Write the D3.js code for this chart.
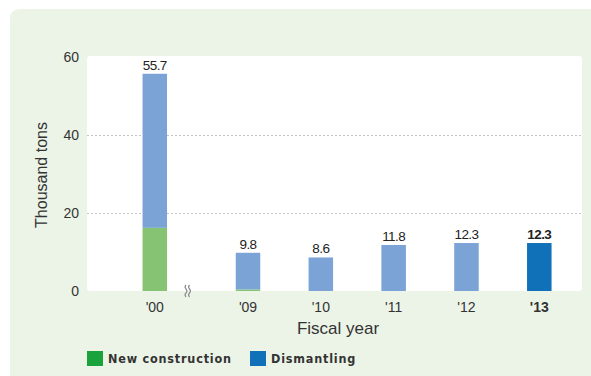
<!DOCTYPE html>
<html>
<head>
<meta charset="utf-8">
<script src="https://cdn.jsdelivr.net/npm/d3@7"></script>
<style>
  html, body { margin: 0; padding: 0; background: #ffffff; }
  svg { display: block; }
</style>
</head>
<body>
<svg id="chart" width="591" height="376"></svg>
<script>
// Fiscal years shown on the axis
const years = ["'00", "'09", "'10", "'11", "'12", "'13"];
// Waste volume, thousand tons
const newConstruction = [16.2, 0.4, 0, 0, 0, 0];
const dismantling = [39.5, 9.4, 8.6, 11.8, 12.3, 12.3];
const totals = [55.7, 9.8, 8.6, 11.8, 12.3, 12.3];
const yTicks = [0, 20, 40, 60];

const svg = d3.select("#chart");
const W = 591, H = 376;
const plot = { left: 87, right: 582, top: 57, bottom: 291 };

// Outer panel
svg.append("path")
  .attr("d", `M10,${H} L10,19 Q10,9 20,9 L${W},9 L${W},${H} Z`)
  .attr("fill", "#ecf4e8");

// Plot background
svg.append("rect")
  .attr("x", plot.left).attr("y", plot.top - 1)
  .attr("width", plot.right - plot.left).attr("height", plot.bottom - plot.top + 1)
  .attr("rx", 3).attr("fill", "#ffffff");

const y = d3.scaleLinear().domain([0, 60]).range([plot.bottom, plot.top]);

// Bars sit on slots; the first year is set apart by an axis break
const slot = d3.scaleLinear().domain([0, 4]).range([248, 539.3]);
const slotOf = i => i === 0 ? -1.28 : i - 1;
const cx = i => slot(slotOf(i));
const barW = 24.5;

// Dashed grid lines
svg.append("g").selectAll("line")
  .data(yTicks.filter(t => t > 0 && t < 60))
  .join("line")
  .attr("x1", plot.left).attr("x2", plot.right)
  .attr("y1", d => y(d) + 0.5).attr("y2", d => y(d) + 0.5)
  .attr("stroke", "#c4c4c4").attr("stroke-width", 1)
  .attr("stroke-dasharray", "2,2");

// Y axis labels
const yAxis = d3.axisLeft(y).tickValues(yTicks).tickSize(0).tickPadding(8);
const gy = svg.append("g").attr("transform", `translate(${plot.left},0)`).call(yAxis);
gy.select(".domain").remove();
gy.selectAll("text")
  .attr("font-family", "Liberation Sans, Arial, sans-serif")
  .attr("font-size", 14).attr("fill", "#333");

// Stacked bars
const blueLight = "#7ba3d6", blueDark = "#1070b8", greenLight = "#86c474";
const bars = svg.append("g");
years.forEach((yr, i) => {
  const g0 = newConstruction[i], d0 = dismantling[i];
  const x0 = cx(i) - barW / 2;
  if (g0 > 0) {
    bars.append("rect")
      .attr("x", x0).attr("width", barW)
      .attr("y", y(g0)).attr("height", y(0) - y(g0))
      .attr("fill", greenLight);
  }
  bars.append("rect")
    .attr("x", x0).attr("width", barW)
    .attr("y", y(g0 + d0)).attr("height", y(g0) - y(g0 + d0))
    .attr("fill", i === years.length - 1 ? blueDark : blueLight);
});

// Value labels
svg.append("g").selectAll("text")
  .data(totals)
  .join("text")
  .attr("x", (d, i) => cx(i))
  .attr("y", d => y(d) - 4)
  .attr("text-anchor", "middle")
  .attr("font-family", "Liberation Sans, Arial, sans-serif")
  .attr("font-size", 13.5)
  .attr("letter-spacing", -0.6)
  .attr("font-weight", (d, i) => i === totals.length - 1 ? "bold" : "normal")
  .attr("fill", "#222")
  .text(d => d.toFixed(1));

// X tick labels
svg.append("g").selectAll("text")
  .data(years)
  .join("text")
  .attr("x", (d, i) => cx(i))
  .attr("y", 312)
  .attr("text-anchor", "middle")
  .attr("font-family", "Liberation Sans, Arial, sans-serif")
  .attr("font-size", 14)
  .attr("font-weight", (d, i) => i === years.length - 1 ? "bold" : "normal")
  .attr("fill", "#333")
  .text(d => d);

// Axis break mark: two wavy strokes
const wave = bx => `M${bx},285 q-2,2 0,4 q2,2 0,4 q-2,2 0,4`;
svg.append("g").selectAll("path")
  .data([186, 189.5])
  .join("path")
  .attr("d", d => wave(d))
  .attr("fill", "none")
  .attr("stroke", "#8a8a8a")
  .attr("stroke-width", 1.1);

// Axis titles
svg.append("text")
  .attr("x", 338).attr("y", 334)
  .attr("text-anchor", "middle")
  .attr("font-family", "Liberation Sans, Arial, sans-serif")
  .attr("font-size", 17).attr("fill", "#333")
  .text("Fiscal year");

svg.append("text")
  .attr("transform", "translate(47,175) rotate(-90)")
  .attr("text-anchor", "middle")
  .attr("font-family", "Liberation Sans, Arial, sans-serif")
  .attr("font-size", 16).attr("fill", "#333")
  .text("Thousand tons");

// Legend
const legend = [
  { label: "New construction", color: "#1aa33c", x: 87 },
  { label: "Dismantling", color: "#1070b8", x: 250 }
];
const lg = svg.append("g").selectAll("g").data(legend).join("g")
  .attr("transform", d => `translate(${d.x},351)`);
lg.append("rect").attr("width", 16).attr("height", 15).attr("fill", d => d.color);
lg.append("text")
  .attr("x", 21).attr("y", 12)
  .attr("font-family", "DejaVu Sans Condensed, DejaVu Sans, sans-serif")
  .attr("font-weight", "bold")
  .attr("font-size", 12.5)
  .attr("letter-spacing", 0.8)
  .attr("fill", "#333")
  .text(d => d.label);
</script>
</body>
</html>
